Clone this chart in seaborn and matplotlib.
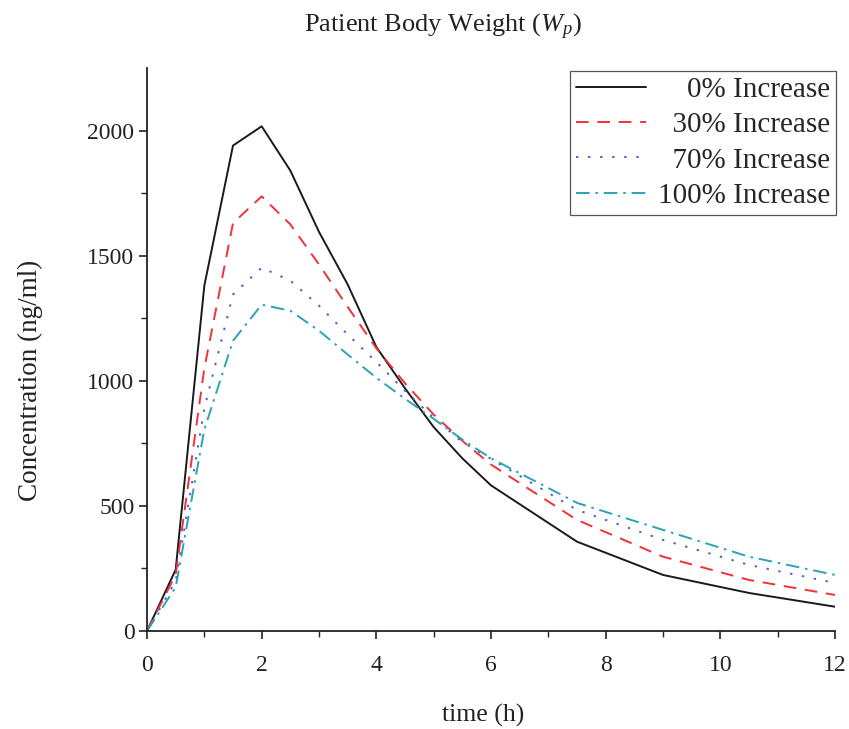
import numpy as np
import pandas as pd
import matplotlib
matplotlib.use("Agg")
import matplotlib.pyplot as plt
import seaborn as sns

# ---- data ----
time_h = [0, 0.5, 1, 1.5, 2, 2.5, 3, 3.5, 4, 4.5, 5, 5.5, 6, 7.5, 9, 10.5, 12]
conc_0 = [0, 245, 1380, 1940, 2017, 1840, 1595, 1385, 1135, 970, 815, 690, 582, 357, 224, 152, 97]
conc_30 = [0, 225, 1050, 1630, 1737, 1625, 1465, 1295, 1130, 990, 865, 760, 665, 444, 297, 204, 144]
conc_70 = [0, 200, 890, 1345, 1452, 1400, 1300, 1185, 1075, 960, 852, 755, 688, 484, 364, 264, 192]
conc_100 = [0, 175, 805, 1160, 1304, 1280, 1200, 1105, 1012, 928, 848, 765, 690, 512, 404, 297, 224]
labels = ["0% Increase", "30% Increase", "70% Increase", "100% Increase"]
x_ticks = [0, 2, 4, 6, 8, 10, 12]
y_ticks = [0, 500, 1000, 1500, 2000]

series = [conc_0, conc_30, conc_70, conc_100]
df = pd.concat(
    [pd.DataFrame({"time": time_h, "conc": s, "series": lab}) for s, lab in zip(series, labels)],
    ignore_index=True,
)

sns.set_theme(style="ticks")
plt.rcParams["font.family"] = ["Liberation Serif", "DejaVu Serif"]
plt.rcParams["mathtext.fontset"] = "custom"
plt.rcParams["mathtext.rm"] = "Liberation Serif"
plt.rcParams["mathtext.it"] = "Liberation Serif:italic"

fig = plt.figure(figsize=(8.49, 7.29), dpi=100)
ax = fig.add_axes([147 / 849, 98 / 729, 688 / 849, 563 / 729])

palette = {labels[0]: "#1a1a1a", labels[1]: "#f2303a", labels[2]: "#4a5fd0", labels[3]: "#2aa3b5"}
dashes = {labels[0]: "", labels[1]: (6.5, 4.5), labels[2]: (1.2, 5.0), labels[3]: (7, 3, 1.3, 3)}

sns.lineplot(data=df, x="time", y="conc", hue="series", style="series",
             palette=palette, dashes=dashes, linewidth=1.4, ax=ax, legend=True)

ax.set_xlim(0, 12)
ax.set_ylim(0, 2250)
ax.set_xticks(x_ticks)
ax.set_yticks(y_ticks)
ax.set_xticks([1, 3, 5, 7, 9, 11], minor=True)
ax.set_yticks([250, 750, 1250, 1750], minor=True)
ax.tick_params(axis="both", which="major", direction="out", length=6, width=1.2,
               labelsize=17, colors="#222222")
ax.tick_params(axis="x", which="major", pad=11)
ax.tick_params(axis="y", which="major", pad=3)
ax.tick_params(axis="both", which="minor", direction="out", length=4, width=1.0, colors="#222222")
for sp in ["top", "right"]:
    ax.spines[sp].set_visible(False)
for sp in ["left", "bottom"]:
    ax.spines[sp].set_linewidth(1.3)
    ax.spines[sp].set_color("#222222")

ax.set_xlabel("time (h)", fontsize=18.5, color="#222222")
ax.set_ylabel("Concentration (ng/ml)", fontsize=19.5, color="#222222")
ax.xaxis.set_label_coords((483 - 147) / 688, (631 - 715) / 563)
ax.xaxis.label.set_va("center")
ax.yaxis.set_label_coords((30 - 147) / 688, (631 - 380) / 563)
ax.yaxis.label.set_va("center")
ax.yaxis.label.set_ha("center")

fig.text(443 / 849, 1 - 27 / 729, r"Patient Body Weight ($W_p$)",
         ha="center", va="center", fontsize=19, color="#222222")

# right-aligned legend labels using spaces (2 spaces ~ one digit in Times)
maxlen = max(len(l) for l in labels)
handles, _ = ax.get_legend_handles_labels()
padded = [" " * (2 * (maxlen - len(l))) + l for l in labels]
leg = ax.legend(handles, padded, loc="upper right", bbox_to_anchor=(836 / 849, 1 - 71 / 729),
                bbox_transform=fig.transFigure, borderaxespad=0, fontsize=21,
                frameon=True, fancybox=False, edgecolor="#555555", framealpha=1,
                handlelength=2.4, handletextpad=0.4, labelspacing=0.3, borderpad=0.2)
leg.get_frame().set_linewidth(0.9)

fig.savefig("out.png", dpi=100)
